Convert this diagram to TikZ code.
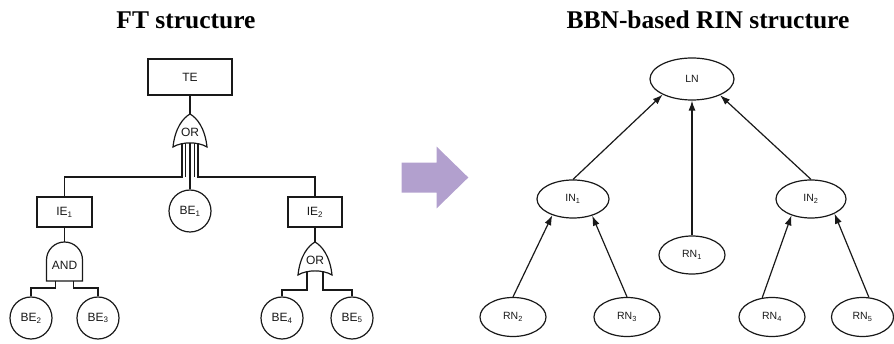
\documentclass[tikz,border=0pt]{standalone}
\usepackage{fontspec}
\setmainfont{Liberation Serif}
\setsansfont{Liberation Sans}
\usetikzlibrary{arrows.meta,shapes.geometric}
\definecolor{lav}{RGB}{178,160,206}
\definecolor{ink}{RGB}{25,25,25}
\tikzset{
  ftlabel/.style={font=\sffamily\fontsize{12}{14}\selectfont, text=ink},
  evbox/.style={draw=ink, rectangle, line width=1.2pt, inner sep=0pt, ftlabel},
  basic/.style={draw=ink, circle, line width=1.2pt, inner sep=0pt, minimum size=42pt, ftlabel},
  bnode/.style={draw=ink, ellipse, line width=1.2pt, inner sep=0pt,
                font=\sffamily\fontsize{10.5}{12}\selectfont, text=ink},
  link/.style={draw=ink, line width=1.2pt},
  arr/.style={draw=ink, line width=1.2pt, -{Latex[length=10pt,width=7pt]}},
  heading/.style={font=\bfseries\fontsize{25.5}{30}\selectfont, anchor=base},
  % OR gate: apex at the origin, 34 wide, 33 high, concave base
  orgate/.pic={
    \draw[link, fill=white] (0,0) .. controls (-7,4) and (-15,14) .. (-17,33)
      .. controls (-8,27.5) and (8,27.5) .. (17,33)
      .. controls (15,14) and (7,4) .. cycle;
    \node[ftlabel] at (0,18) {OR};
    \coordinate (-top) at (0,0);
    \coordinate (-bl) at (-8,29.7);
    \coordinate (-sl) at (-4.8,29.2);
    \coordinate (-bm) at (0,28.9);
    \coordinate (-sr) at (4.8,29.2);
    \coordinate (-br) at (8,29.7);
  },
  % AND gate: dome on top, flat base, 36 wide, 39 high
  andgate/.pic={
    \draw[link, fill=white] (-18,39) -- (-18,18) arc (180:360:18) -- (18,39) -- cycle;
    \node[ftlabel] at (0,23) {AND};
    \coordinate (-top) at (0,0);
    \coordinate (-bl) at (-9,39);
    \coordinate (-br) at (9,39);
  },
}
\begin{document}
\begin{tikzpicture}[x=1pt, y=-1pt]
\useasboundingbox (0,0) rectangle (894,344);

% headings
\node[heading] (h1) at (186,29) {FT structure};
\node[heading] (h2) at (708,29) {BBN-based RIN structure};

% ---------------- fault tree ----------------
\node[evbox, minimum width=84pt, minimum height=36pt] (TE) at (190,77) {TE};
\node[evbox, minimum width=55pt, minimum height=30pt] (IE1) at (64.5,212) {IE\textsubscript{1}};
\node[evbox, minimum width=54pt, minimum height=30pt] (IE2) at (315,212) {IE\textsubscript{2}};
\node[basic] (BE1) at (190,211) {BE\textsubscript{1}};
\node[basic] (BE2) at (31,318) {BE\textsubscript{2}};
\node[basic] (BE3) at (98,318) {BE\textsubscript{3}};
\node[basic] (BE4) at (282,318) {BE\textsubscript{4}};
\node[basic] (BE5) at (352,318) {BE\textsubscript{5}};

\pic (g0) at (190,114) {orgate};
\pic (g1) at (64.5,242) {andgate};
\pic (g2) at (315,242) {orgate};

% elbow levels of the gate inputs
\coordinate (h0) at (0,177);
\coordinate (h1) at (0,288);
\coordinate (h2) at (0,290);

\draw[link] (TE.south) -- (g0-top);
\draw[link] (g0-bl) -- (g0-bl |- h0) -| (IE1.north);
\draw[link] (g0-sl) -- (g0-sl |- h0);
\draw[link] (g0-bm) -- (BE1.north);
\draw[link] (g0-sr) -- (g0-sr |- h0);
\draw[link] (g0-br) -- (g0-br |- h0) -| (IE2.north);

\draw[link] (IE1.south) -- (g1-top);
\draw[link] (g1-bl) -- (g1-bl |- h1) -| (BE2.north);
\draw[link] (g1-br) -- (g1-br |- h1) -| (BE3.north);

\draw[link] (IE2.south) -- (g2-top);
\draw[link] (g2-bl) -- (g2-bl |- h2) -| (BE4.north);
\draw[link] (g2-br) -- (g2-br |- h2) -| (BE5.north);

% ---------------- transformation arrow ----------------
\fill[lav] (401.7,162.7) -- (436.7,162.7) -- (436.7,146.7) -- (468.3,177.5)
  -- (436.7,208.3) -- (436.7,192.7) -- (401.7,192.7) -- cycle;

% ---------------- BBN ----------------
\node[bnode, minimum width=84pt, minimum height=42pt] (LN) at (692,79) {LN};
\node[bnode, minimum width=72pt, minimum height=38pt] (IN1) at (573,199) {IN\textsubscript{1}};
\node[bnode, minimum width=70pt, minimum height=38pt] (IN2) at (811,199) {IN\textsubscript{2}};
\node[bnode, minimum width=66pt, minimum height=38pt] (RN1) at (692,255) {RN\textsubscript{1}};
\node[bnode, minimum width=66pt, minimum height=39pt] (RN2) at (513,317) {RN\textsubscript{2}};
\node[bnode, minimum width=66pt, minimum height=39pt] (RN3) at (627,317) {RN\textsubscript{3}};
\node[bnode, minimum width=66pt, minimum height=39pt] (RN4) at (772,317) {RN\textsubscript{4}};
\node[bnode, minimum width=62pt, minimum height=39pt] (RN5) at (862.5,317) {RN\textsubscript{5}};

\draw[arr] (IN1.north) -- (LN.208);
\draw[arr] (RN1.north) -- (LN.south);
\draw[arr] (IN2.north) -- (LN.330);
\draw[arr] (RN2.north) -- (IN1.218);
\draw[arr] (RN3.north) -- (IN1.319);
\draw[arr] (RN4.117) -- (IN2.220);
\draw[arr] (RN5.72) -- (IN2.328);
\end{tikzpicture}
\end{document}
